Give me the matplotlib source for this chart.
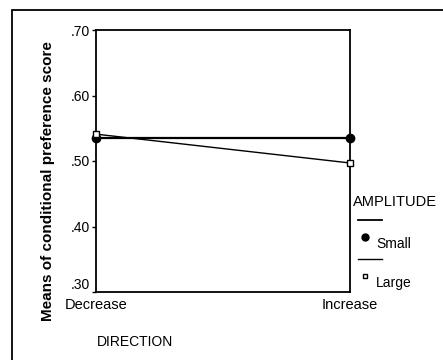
import matplotlib
matplotlib.use("Agg")
import matplotlib.pyplot as plt
from matplotlib.patches import Rectangle
from matplotlib.lines import Line2D

plt.rcParams['font.family'] = ['Liberation Sans', 'DejaVu Sans']

directions = ["Decrease", "Increase"]
small = [0.535, 0.535]
large = [0.541, 0.497]
yticks = [0.30, 0.40, 0.50, 0.60, 0.70]
ytick_labels = [".30", ".40", ".50", ".60", ".70"]

W, H = 443, 360
fig = plt.figure(figsize=(W/100, H/100), dpi=100)
fig.patch.set_facecolor("white")

# outer frame
fig.patches.append(Rectangle((12/W, -0.2), 1.2, 1 - 10/H + 0.2, transform=fig.transFigure,
                             fill=False, edgecolor="black", linewidth=1.3))

ax = fig.add_axes([96/W, 1 - 292/H, (350-96)/W, (292-30)/H])
x = list(range(len(directions)))
ax.plot(x, small, color="black", linewidth=1.6, marker="o", markersize=6,
        markerfacecolor="black", markeredgecolor="black", clip_on=False, zorder=3)
ax.plot(x, large, color="black", linewidth=1.0, marker="s", markersize=5,
        markerfacecolor="white", markeredgecolor="black", clip_on=False, zorder=3)
ax.set_xlim(0, 1)
ax.set_ylim(0.30, 0.70)
ax.set_yticks(yticks)
ax.set_yticklabels(ytick_labels, fontsize=10)
ax.get_yticklabels()[0].set_verticalalignment("bottom")
ax.set_xticks(x)
ax.set_xticklabels(directions, fontsize=10.5)
ax.tick_params(axis="y", length=3, width=1.0, pad=1)
ax.tick_params(axis="x", length=0, pad=4)
for s in ax.spines.values():
    s.set_linewidth(1.3)
ax.set_ylabel("Means of conditional preference score", fontsize=11, fontweight="bold")
ax.yaxis.set_label_coords((55 - 96)/(350 - 96), (292 - 181)/(292 - 30))

fig.text(97/W, 1 - 342/H, "DIRECTION", fontsize=10, va="center", ha="left")

# legend
fig.text(353/W, 1 - 202/H, "AMPLITUDE", fontsize=10.5, va="center", ha="left")
fig.lines.append(Line2D([358/W, 382/W], [1 - 220/H, 1 - 220/H], transform=fig.transFigure,
                        color="black", linewidth=1.3))
fig.lines.append(Line2D([365/W], [1 - 237/H], transform=fig.transFigure, marker="o",
                        markersize=5, color="black", linestyle="none"))
fig.text(376/W, 1 - 244/H, "Small", fontsize=10, va="center", ha="left")
fig.lines.append(Line2D([358/W, 382/W], [1 - 259/H, 1 - 259/H], transform=fig.transFigure,
                        color="black", linewidth=1.0))
fig.lines.append(Line2D([365/W], [1 - 276/H], transform=fig.transFigure, marker="s",
                        markersize=3.5, markerfacecolor="white", markeredgecolor="black",
                        linestyle="none"))
fig.text(376/W, 1 - 283/H, "Large", fontsize=10, va="center", ha="left")

fig.savefig("out.png", dpi=100)
